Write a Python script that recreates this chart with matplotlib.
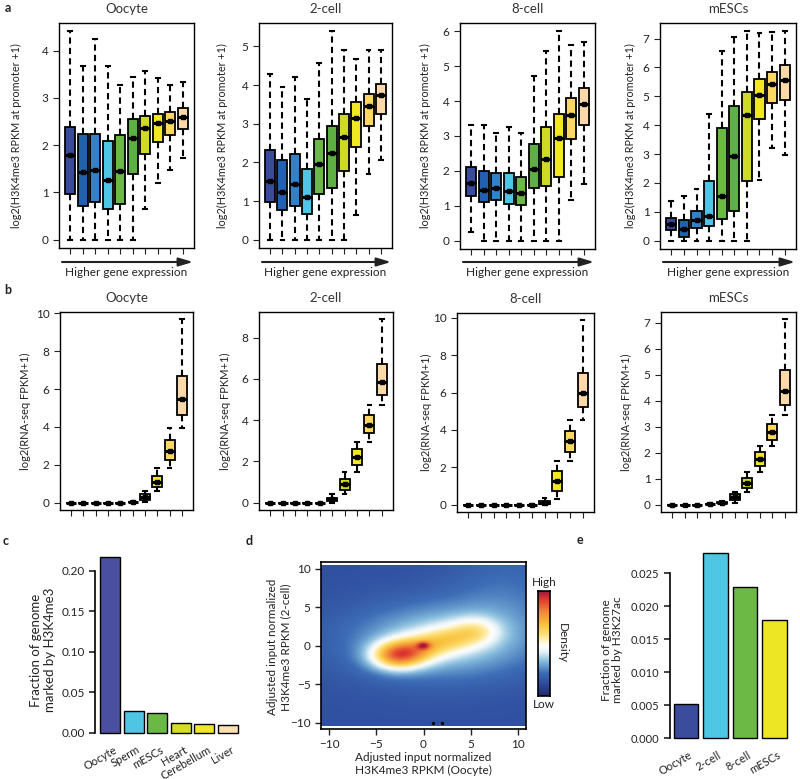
import numpy as np
import matplotlib
matplotlib.use("Agg")
import matplotlib.pyplot as plt
from matplotlib.colors import LinearSegmentedColormap, Normalize

plt.rcParams['font.family'] = ['Lato', 'DejaVu Sans']
plt.rcParams['font.size'] = 8.5
plt.rcParams['text.color'] = '#222222'
plt.rcParams['axes.labelcolor'] = '#222222'
plt.rcParams['xtick.color'] = '#222222'
plt.rcParams['ytick.color'] = '#222222'

W, H = 800, 779

# ---- data -------------------------------------------------------------
stages = ["Oocyte", "2-cell", "8-cell", "mESCs"]
box_colors = ["#3a4a9e", "#2161b0", "#3182c8", "#4fc6e6", "#6cb845",
              "#5fb043", "#cfdb22", "#f1e723", "#fbd862", "#fdd9aa"]

# panel a: rows = [whisker low, q1, median, q3, whisker high]
h3k4me3_oocyte = [[0, 0.96, 1.79, 2.39, 4.41], [0, 0.72, 1.43, 2.24, 3.68],
                  [0, 0.80, 1.47, 2.24, 4.25], [0, 0.64, 1.27, 2.09, 3.68],
                  [0, 0.76, 1.46, 2.21, 3.27], [0, 1.39, 2.16, 2.56, 3.45],
                  [0.64, 1.82, 2.37, 2.62, 3.56], [1.19, 2.07, 2.46, 2.67, 3.42],
                  [1.47, 2.21, 2.51, 2.70, 3.28], [1.73, 2.34, 2.60, 2.78, 3.33]]
h3k4me3_2cell = [[0, 0.97, 1.53, 2.31, 4.28], [0, 0.78, 1.23, 2.05, 3.94],
                 [0, 0.88, 1.43, 2.21, 4.20], [0, 0.67, 1.10, 1.83, 3.63],
                 [0, 1.19, 1.96, 2.61, 4.58], [0, 1.34, 2.23, 2.94, 5.39],
                 [0, 1.77, 2.66, 3.26, 4.90], [0.65, 2.40, 3.16, 3.55, 4.67],
                 [1.69, 2.94, 3.46, 3.78, 4.90], [2.05, 3.26, 3.74, 4.04, 4.90]]
h3k4me3_8cell = [[0.24, 1.29, 1.65, 2.11, 3.31], [0, 1.10, 1.46, 1.99, 3.31],
                 [0, 1.17, 1.51, 1.94, 3.10], [0, 1.06, 1.41, 1.94, 3.26],
                 [0, 1.01, 1.37, 1.83, 3.08], [0, 1.51, 2.04, 2.78, 4.73],
                 [0, 1.58, 2.35, 3.26, 5.45], [0, 1.82, 2.95, 3.64, 6.00],
                 [1.17, 2.90, 3.60, 4.08, 5.60], [1.63, 3.31, 3.91, 4.39, 5.69]]
h3k4me3_mesc = [[0, 0.37, 0.58, 0.78, 1.36], [0, 0.12, 0.39, 0.70, 1.55],
                [0, 0.45, 0.70, 1.01, 1.80], [0, 0.52, 0.86, 2.08, 4.37],
                [0, 0.74, 1.53, 3.91, 6.58], [0, 1.03, 2.92, 4.66, 7.04],
                [0, 2.05, 4.34, 5.16, 7.25], [2.11, 4.22, 5.05, 5.59, 7.18],
                [3.21, 4.76, 5.42, 5.85, 7.22], [2.96, 4.86, 5.57, 6.09, 7.25]]

# panel b: rows = [whisker low, q1, median, q3, whisker high]
rnaseq_oocyte = [[0, 0, 0, 0, 0], [0, 0, 0, 0, 0], [0, 0, 0, 0, 0],
                 [0, 0, 0, 0, 0], [0, 0, 0, 0, 0], [0, 0.01, 0.03, 0.05, 0.08],
                 [0.05, 0.14, 0.32, 0.44, 0.63], [0.62, 0.81, 1.11, 1.43, 1.81],
                 [1.85, 2.25, 2.73, 3.31, 3.93], [3.93, 4.63, 5.48, 6.69, 9.68]]
rnaseq_2cell = [[0, 0, 0, 0, 0], [0, 0, 0, 0, 0], [0, 0, 0, 0, 0],
                [0, 0, 0, 0, 0], [0, 0, 0, 0, 0], [0, 0.08, 0.16, 0.24, 0.40],
                [0.40, 0.61, 0.89, 1.16, 1.49], [1.49, 1.83, 2.21, 2.58, 2.96],
                [2.96, 3.36, 3.76, 4.23, 4.72], [4.72, 5.20, 5.85, 6.70, 8.89]]
rnaseq_8cell = [[0, 0, 0, 0, 0], [0, 0, 0, 0, 0], [0, 0, 0, 0, 0],
                [0, 0, 0, 0, 0], [0, 0, 0, 0, 0], [0, 0, 0, 0, 0.02],
                [0, 0.02, 0.11, 0.20, 0.38], [0.32, 0.73, 1.25, 1.79, 2.35],
                [2.33, 2.83, 3.41, 3.94, 4.53], [4.53, 5.20, 5.97, 7.04, 9.86]]
rnaseq_mesc = [[0, 0, 0, 0, 0], [0, 0, 0, 0, 0], [0, 0, 0, 0, 0],
               [0, 0.01, 0.02, 0.03, 0.05], [0.02, 0.05, 0.08, 0.11, 0.14],
               [0.05, 0.19, 0.30, 0.39, 0.49], [0.48, 0.62, 0.84, 1.04, 1.26],
               [1.26, 1.49, 1.75, 2.01, 2.27], [2.27, 2.50, 2.81, 3.11, 3.46],
               [3.46, 3.85, 4.37, 5.19, 7.13]]

# panel c
c_labels = ["Oocyte", "Sperm", "mESCs", "Heart", "Cerebellum", "Liver"]
c_values = [0.217, 0.027, 0.025, 0.012, 0.011, 0.010]
c_colors = ["#4b4f9f", "#4fc4e3", "#6ab945", "#d5dc25", "#f1e72a", "#fddfb0"]

# panel e
e_labels = ["Oocyte", "2-cell", "8-cell", "mESCs"]
e_values = [0.0051, 0.0280, 0.0229, 0.0179]
e_colors = ["#3b4c9c", "#4fc6e3", "#6cba45", "#ede625"]

# panel d: density components (x, y, sx, sy, weight)
d_blob_x = [-2.8, -0.3, 2.6, 5.6, 0.0, 2.0, 9.0]
d_blob_y = [-1.3, -0.3, 0.8, 1.9, 0.0, 0.6, 7.0]
d_blob_sx = [2.0, 2.0, 2.0, 1.8, 0.5, 7.0, 4.5]
d_blob_sy = [1.3, 1.3, 1.3, 1.3, 0.35, 3.5, 4.5]
d_blob_w = [0.80, 0.30, 0.28, 0.30, 0.42, 0.38, 0.12]
d_dots_x = [1.0, 2.0]
d_dots_y = [-10.0, -10.0]


def px_axes(x0, y0, x1, y1):
    return fig.add_axes([x0 / W, 1 - y1 / H, (x1 - x0) / W, (y1 - y0) / H])


def boxpanel(ax, rows, title):
    stats = [dict(whislo=r[0], q1=r[1], med=r[2], q3=r[3], whishi=r[4], fliers=[])
             for r in rows]
    pos = np.arange(1, len(rows) + 1)
    bp = ax.bxp(stats, positions=pos, widths=0.8, patch_artist=True,
                showfliers=False, capwidths=0.3,
                boxprops=dict(edgecolor="black", linewidth=1.3),
                whiskerprops=dict(color="black", linewidth=1.5, linestyle=(0, (3, 2))),
                capprops=dict(color="black", linewidth=1.5),
                medianprops=dict(color="black", linewidth=2.2))
    for patch, col in zip(bp["boxes"], box_colors):
        patch.set_facecolor(col)
    ax.plot(pos, [r[2] for r in rows], "s", color="black", ms=3.2, zorder=5)
    lo = min(r[0] for r in rows)
    hi = max(r[4] for r in rows)
    pad = (hi - lo) * 0.04
    ax.set_ylim(lo - pad, hi + pad)
    ax.set_xlim(0.1, 10.9)
    ax.set_xticks(pos)
    ax.set_xticklabels([])
    ax.tick_params(direction="out", length=4, width=0.8, labelsize=8.5)
    for s in ax.spines.values():
        s.set_linewidth(1.0)
    ax.set_title(title, fontsize=9.5, pad=7, color="#333333")


fig = plt.figure(figsize=(W / 100, H / 100), dpi=100)

# ---- panel a ----------------------------------------------------------
a_boxes = [(59, 23, 194, 248), (259, 23, 392, 248), (460, 23, 595, 249), (660, 23, 796, 249)]
a_label_x = [16, 222, 425, 630]
a_data = [h3k4me3_oocyte, h3k4me3_2cell, h3k4me3_8cell, h3k4me3_mesc]
for (x0, y0, x1, y1), lx, rows, st in zip(a_boxes, a_label_x, a_data, stages):
    ax = px_axes(x0, y0, x1, y1)
    boxpanel(ax, rows, st)
    fig.text(lx / W, 1 - (y0 + y1) / 2 / H, "log2(H3K4me3 RPKM at promoter +1)",
             rotation=90, ha="center", va="center", fontsize=7.8)
    ax.annotate("", xy=((x1 - 1) / W, 1 - 262 / H), xytext=((x0 + 3) / W, 1 - 262 / H),
                xycoords="figure fraction", textcoords="figure fraction",
                arrowprops=dict(arrowstyle="-|>,head_length=1.0,head_width=0.3",
                                color="#222222", lw=1.5, shrinkA=0, shrinkB=0))
    fig.text((x0 + x1) / 2 / W, 1 - 272 / H, "Higher gene expression",
             ha="center", va="center", fontsize=8.5)

# ---- panel b ----------------------------------------------------------
b_boxes = [(60, 312, 193, 510), (259, 312, 393, 510), (457, 313, 594, 512), (661, 312, 796, 512)]
b_label_x = [25, 225, 426, 626]
b_data = [rnaseq_oocyte, rnaseq_2cell, rnaseq_8cell, rnaseq_mesc]
for (x0, y0, x1, y1), lx, rows, st in zip(b_boxes, b_label_x, b_data, stages):
    ax = px_axes(x0, y0, x1, y1)
    boxpanel(ax, rows, st)
    fig.text(lx / W, 1 - (y0 + y1) / 2 / H, "log2(RNA-seq FPKM+1)",
             rotation=90, ha="center", va="center", fontsize=8)

# ---- panel c ----------------------------------------------------------
ax = px_axes(95, 550, 243, 740)
cx = 0.7 + 1.2 * np.arange(len(c_values))
ax.bar(cx, c_values, width=1.0, color=c_colors, edgecolor="black", linewidth=1.0)
ax.set_xlim(-0.08, 7.48)
ax.set_ylim(-0.0087, 0.2257)
ax.set_yticks([0, 0.05, 0.10, 0.15, 0.20])
ax.set_yticklabels(["0.00", "0.05", "0.10", "0.15", "0.20"], fontsize=8.5)
ax.set_xticks(cx + 0.15)
ax.set_xticklabels(c_labels, rotation=30, ha="right", rotation_mode="anchor", fontsize=8)
ax.tick_params(axis="x", length=0, pad=3)
ax.tick_params(axis="y", direction="out", length=4, width=1.2)
for s in ["top", "right", "bottom"]:
    ax.spines[s].set_visible(False)
ax.spines["left"].set_bounds(0, 0.20)
ax.spines["left"].set_linewidth(1.2)
fig.text(43 / W, 1 - 650 / H, "Fraction of genome\nmarked by H3K4me3", rotation=90,
         ha="center", va="center", fontsize=9.5, linespacing=1.1)

# ---- panel d ----------------------------------------------------------
ax = px_axes(321, 562, 526, 729)
gx = np.linspace(-10.85, 10.85, 90)
gy = np.linspace(-10.45, 10.45, 70)
XX, YY = np.meshgrid(gx, gy)
dens = np.zeros_like(XX)
for bx, by, sx, sy, w in zip(d_blob_x, d_blob_y, d_blob_sx, d_blob_sy, d_blob_w):
    dens += w * np.exp(-0.5 * (((XX - bx) / sx) ** 2 + ((YY - by) / sy) ** 2))
cmap = LinearSegmentedColormap.from_list("dens", [
    (0.0, "#232a6e"), (0.12, "#2f4c9e"), (0.22, "#3d6db6"), (0.33, "#86bcdd"),
    (0.42, "#e6f3f8"), (0.48, "#ffffff"), (0.57, "#fde68a"), (0.68, "#f9c23b"),
    (0.80, "#f08a3a"), (0.92, "#e23b2e"), (1.0, "#9a1a3a")])
norm = Normalize(vmin=-0.2, vmax=1.3)
ax.imshow(dens, extent=(-10.85, 10.85, -10.45, 10.45), origin="lower", cmap=cmap,
          norm=norm, aspect="auto", interpolation="bilinear")
ax.scatter(d_dots_x, d_dots_y, s=2, color="black", zorder=3)
ax.set_xlim(-10.85, 10.85)
ax.set_ylim(-10.8, 10.9)
ax.set_xticks([-10, -5, 0, 5, 10])
ax.set_yticks([-10, -5, 0, 5, 10])
ax.tick_params(direction="out", length=4, width=1.0, labelsize=8.5)
for s in ax.spines.values():
    s.set_linewidth(1.2)
fig.text(423 / W, 1 - 764 / H, "Adjusted input normalized\nH3K4me3 RPKM (Oocyte)",
         ha="center", va="center", fontsize=8.5, linespacing=1.2)
fig.text(279 / W, 1 - 647 / H, "Adjusted input normalized\nH3K4me3 RPKM (2-cell)",
         rotation=90, ha="center", va="center", fontsize=8.5, linespacing=1.2)

cax = px_axes(538, 591, 550, 696)
cax.imshow(np.linspace(0, 1, 256)[:, None], aspect="auto", origin="lower", cmap=cmap,
           extent=(0, 1, 0, 1))
cax.set_xticks([])
cax.set_yticks([])
for s in cax.spines.values():
    s.set_linewidth(1.2)
fig.text(544 / W, 1 - 583 / H, "High", ha="center", va="center", fontsize=8.5)
fig.text(544 / W, 1 - 704 / H, "Low", ha="center", va="center", fontsize=8.5)
fig.text(562 / W, 1 - 643 / H, "Density", rotation=-90, ha="center", va="center", fontsize=8.5)

# ---- panel e ----------------------------------------------------------
ax = px_axes(669.5, 546, 791, 745.4)
ex = 0.7 + 1.2 * np.arange(len(e_values))
ax.bar(ex, e_values, width=1.0, color=e_colors, edgecolor="black", linewidth=1.0)
ax.set_xlim(0.016, 4.984)
ax.set_ylim(-0.00112, 0.02912)
ax.set_yticks([0, 0.005, 0.010, 0.015, 0.020, 0.025])
ax.set_yticklabels(["0.000", "0.005", "0.010", "0.015", "0.020", "0.025"], fontsize=8)
ax.set_xticks(ex + 0.1)
ax.set_xticklabels(e_labels, rotation=30, ha="right", rotation_mode="anchor", fontsize=8)
ax.tick_params(axis="x", length=0, pad=3)
ax.tick_params(axis="y", direction="out", length=4, width=1.2)
for s in ["top", "right", "bottom"]:
    ax.spines[s].set_visible(False)
ax.spines["left"].set_bounds(0, 0.025)
ax.spines["left"].set_linewidth(1.2)
fig.text(612 / W, 1 - 650 / H, "Fraction of genome\nmarked by H3K27ac", rotation=90,
         ha="center", va="center", fontsize=8.5, linespacing=1.1)

# ---- panel letters ----------------------------------------------------
for letter, x, y in [("a", 8, 8), ("b", 8, 290), ("c", 6, 541), ("d", 249, 541), ("e", 580, 540)]:
    fig.text(x / W, 1 - y / H, letter, fontweight="bold", fontsize=9, ha="center", va="center")

fig.savefig("out.png", dpi=100)
